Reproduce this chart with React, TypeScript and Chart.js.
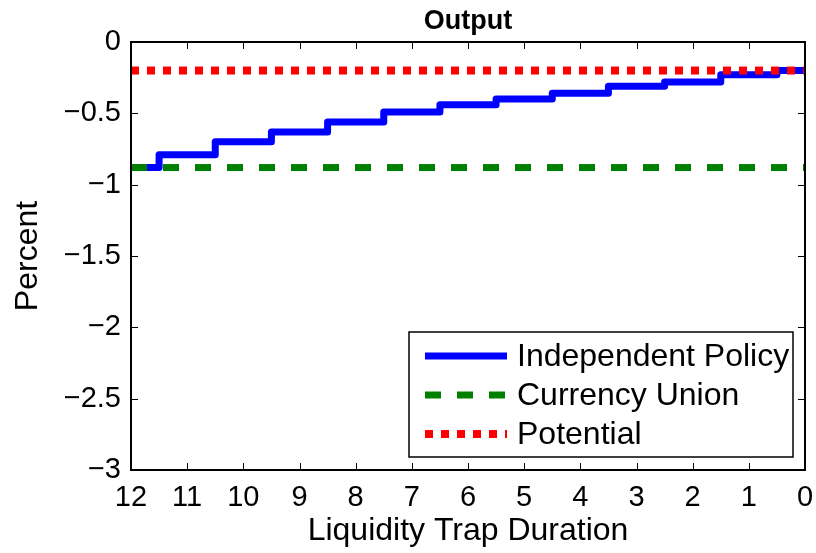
import React, { useEffect, useRef } from "react";
import { Chart, registerables } from "chart.js";

Chart.register(...registerables);

const durationX = [12, 11.5, 10.5, 9.5, 8.5, 7.5, 6.5, 5.5, 4.5, 3.5, 2.5, 1.5, 0.5, 0];
const independentPolicy = [-0.88, -0.79, -0.7, -0.63, -0.56, -0.49, -0.44, -0.4, -0.36, -0.31, -0.28, -0.23, -0.2, -0.2];
const flatX = [12, 0];
const currencyUnion = [-0.88, -0.88];
const potential = [-0.2, -0.2];
const seriesLabels = ["Independent Policy", "Currency Union", "Potential"];
const titleText = "Output";
const xTitle = "Liquidity Trap Duration";
const yTitle = "Percent";

const FONT = "'Liberation Sans', Arial, Helvetica, sans-serif";

const boxPlugin = {
  id: "matlabBox",
  afterDatasetsDraw(chart: any) {
    const { ctx, chartArea } = chart;
    const { left, right, top, bottom } = chartArea;
    const xs = chart.scales.x;
    const ys = chart.scales.y;
    ctx.save();
    ctx.strokeStyle = "#000";
    ctx.lineWidth = 1;
    const tl = 7;
    xs.ticks.forEach((t: any) => {
      const px = Math.round(xs.getPixelForValue(t.value)) + 0.5;
      ctx.beginPath();
      ctx.moveTo(px, bottom);
      ctx.lineTo(px, bottom - tl);
      ctx.moveTo(px, top);
      ctx.lineTo(px, top + tl);
      ctx.stroke();
    });
    ys.ticks.forEach((t: any) => {
      const py = Math.round(ys.getPixelForValue(t.value)) + 0.5;
      ctx.beginPath();
      ctx.moveTo(left, py);
      ctx.lineTo(left + tl, py);
      ctx.moveTo(right, py);
      ctx.lineTo(right - tl, py);
      ctx.stroke();
    });
    ctx.lineWidth = 2;
    ctx.strokeRect(left, top, right - left, bottom - top);

    ctx.fillStyle = "#000";
    ctx.font = `bold 27px ${FONT}`;
    ctx.textAlign = "center";
    ctx.textBaseline = "middle";
    ctx.fillText(titleText, (left + right) / 2, 22);

    const bw = 384;
    const bh = 125;
    const bx = right - 12 - bw;
    const by = bottom - 13 - bh;
    ctx.fillStyle = "#fff";
    ctx.fillRect(bx, by, bw, bh);
    ctx.lineWidth = 1.5;
    ctx.strokeStyle = "#000";
    ctx.strokeRect(bx, by, bw, bh);
    const dsets = chart.data.datasets;
    [0, 1, 2].forEach((i, row) => {
      const d = dsets[i];
      const cy = by + 24 + row * 39;
      ctx.save();
      ctx.strokeStyle = d.borderColor;
      ctx.lineWidth = d.borderWidth;
      ctx.setLineDash(d.borderDash || []);
      ctx.lineCap = "butt";
      ctx.beginPath();
      ctx.moveTo(bx + 16, cy);
      ctx.lineTo(bx + 98, cy);
      ctx.stroke();
      ctx.restore();
      ctx.fillStyle = "#000";
      ctx.font = `32px ${FONT}`;
      ctx.textAlign = "left";
      ctx.textBaseline = "middle";
      ctx.fillText(d.label, bx + 108, cy + 1);
    });
    ctx.restore();
  },
};

export default function App() {
  const ref = useRef<HTMLCanvasElement | null>(null);
  useEffect(() => {
    if (!ref.current) return;
    Chart.defaults.font.family = FONT;
    Chart.defaults.color = "#000";
    const chart = new Chart(ref.current, {
      type: "line",
      data: {
        datasets: [
          {
            label: seriesLabels[0],
            data: durationX.map((x, i) => ({ x, y: independentPolicy[i] })),
            borderColor: "#0000ff",
            borderWidth: 7,
            stepped: true,
            pointRadius: 0,
            borderJoinStyle: "round",
            borderCapStyle: "butt",
            order: 3,
          },
          {
            label: seriesLabels[1],
            data: flatX.map((x, i) => ({ x, y: currencyUnion[i] })),
            borderColor: "#008000",
            borderWidth: 7,
            borderDash: [16, 16],
            pointRadius: 0,
            order: 2,
          },
          {
            label: seriesLabels[2],
            data: flatX.map((x, i) => ({ x, y: potential[i] })),
            borderColor: "#ff0000",
            borderWidth: 8,
            borderDash: [8, 8],
            pointRadius: 0,
            order: 1,
          },
        ],
      },
      options: {
        animation: false,
        responsive: false,
        devicePixelRatio: 1,
        layout: { padding: { top: 42, right: 11, left: 0, bottom: 0 } },
        plugins: { legend: { display: false }, tooltip: { enabled: false }, title: { display: false } },
        scales: {
          x: {
            type: "linear",
            reverse: true,
            min: 0,
            max: 12,
            grid: { display: false, drawTicks: false },
            border: { display: false },
            ticks: { stepSize: 1, padding: 11, font: { size: 29 }, color: "#000", maxRotation: 0, autoSkip: false },
            title: { display: true, text: xTitle, font: { size: 32 }, color: "#000", padding: { top: 2, bottom: 3 } },
            afterFit: (s: any) => {
              s.height = 83;
              s.paddingLeft = 0;
              s.paddingRight = 0;
            },
          },
          y: {
            min: -3,
            max: 0,
            grid: { display: false, drawTicks: false },
            border: { display: false },
            ticks: {
              stepSize: 0.5,
              padding: 10,
              font: { size: 29 },
              color: "#000",
              callback: (v: any) => {
                const n = Number(v);
                if (n === 0) return "0";
                return "\u2212" + String(Math.abs(n));
              },
            },
            title: { display: true, text: yTitle, font: { size: 32 }, color: "#000", padding: { top: 9, bottom: 9 } },
            afterFit: (s: any) => {
              s.width = 131;
              s.paddingTop = 0;
              s.paddingBottom = 0;
            },
          },
        },
      },
      plugins: [boxPlugin],
    } as any);
    return () => chart.destroy();
  }, []);
  return (
    <div style={{ position: "fixed", left: 0, top: 0, width: 816, height: 553, background: "#fff" }}>
      <canvas ref={ref} width={816} height={553} />
    </div>
  );
}
